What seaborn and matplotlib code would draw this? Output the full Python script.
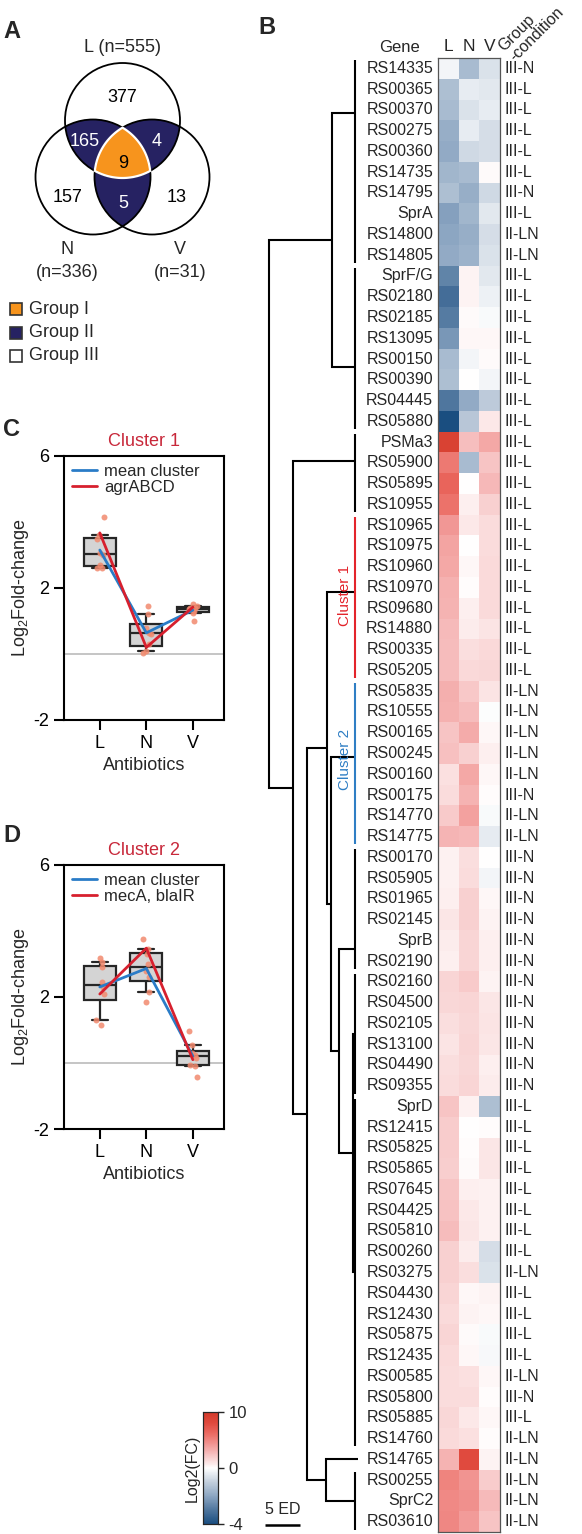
import numpy as np
import pandas as pd
import matplotlib
matplotlib.use('Agg')
import matplotlib.pyplot as plt
import seaborn as sns
from matplotlib.colors import LinearSegmentedColormap, TwoSlopeNorm
from matplotlib.patches import Circle, Polygon, Rectangle

sns.set_style('ticks')
plt.rcParams['font.family'] = ['Liberation Sans', 'DejaVu Sans']
plt.rcParams['axes.unicode_minus'] = False

# --- data -------------------------------------------------------------------
venn_regions = ['L', 'N', 'V', 'LN', 'LV', 'NV', 'LNV']
venn_counts = [377, 157, 13, 165, 4, 5, 9]
venn_set_labels = ['L (n=555)', 'N\n(n=336)', 'V\n(n=31)']
group_names = ['Group I', 'Group II', 'Group III']

conditions = ['L', 'N', 'V']

genes = ['RS14335', 'RS00365', 'RS00370', 'RS00275', 'RS00360', 'RS14735', 'RS14795',
         'SprA', 'RS14800', 'RS14805', 'SprF/G', 'RS02180', 'RS02185', 'RS13095',
         'RS00150', 'RS00390', 'RS04445', 'RS05880', 'PSMa3', 'RS05900', 'RS05895',
         'RS10955', 'RS10965', 'RS10975', 'RS10960', 'RS10970', 'RS09680', 'RS14880',
         'RS00335', 'RS05205', 'RS05835', 'RS10555', 'RS00165', 'RS00245', 'RS00160',
         'RS00175', 'RS14770', 'RS14775', 'RS00170', 'RS05905', 'RS01965', 'RS02145',
         'SprB', 'RS02190', 'RS02160', 'RS04500', 'RS02105', 'RS13100', 'RS04490',
         'RS09355', 'SprD', 'RS12415', 'RS05825', 'RS05865', 'RS07645', 'RS04425',
         'RS05810', 'RS00260', 'RS03275', 'RS04430', 'RS12430', 'RS05875', 'RS12435',
         'RS00585', 'RS05800', 'RS05885', 'RS14760', 'RS14765', 'RS00255', 'SprC2',
         'RS03610']

groups = ['III-N', 'III-L', 'III-L', 'III-L', 'III-L', 'III-L', 'III-N', 'III-L', 'II-LN',
          'II-LN', 'III-L', 'III-L', 'III-L', 'III-L', 'III-L', 'III-L', 'III-L', 'III-L',
          'III-L', 'III-L', 'III-L', 'III-L', 'III-L', 'III-L', 'III-L', 'III-L', 'III-L',
          'III-L', 'III-L', 'III-L', 'II-LN', 'II-LN', 'II-LN', 'II-LN', 'II-LN', 'III-N',
          'II-LN', 'II-LN', 'III-N', 'III-N', 'III-N', 'III-N', 'III-N', 'III-N', 'III-N',
          'III-N', 'III-N', 'III-N', 'III-N', 'III-N', 'III-L', 'III-L', 'III-L', 'III-L',
          'III-L', 'III-L', 'III-L', 'III-L', 'II-LN', 'III-L', 'III-L', 'III-L', 'III-L',
          'II-LN', 'III-N', 'III-L', 'II-LN', 'II-LN', 'II-LN', 'II-LN', 'II-LN']

lfc_L = [-0.2, -1.4, -1.5, -1.8, -1.9, -1.6, -1.4, -2.1, -2.0, -1.9,
         -2.7, -3.2, -2.9, -2.3, -1.5, -1.4, -3.0, -4.0, 9.0, 5.5,
         6.5, 5.8, 4.15, 3.6, 3.5, 3.05, 3.0, 2.7, 2.6, 2.6,
         3.19, 3.05, 2.3, 2.45, 1.14, 1.3, 2.1, 2.9, 0.5, 0.5,
         0.6, 0.9, 0.7, 0.6, 1.6, 1.5, 1.2, 1.0, 1.2, 1.3,
         2.3, 2.0, 2.0, 1.9, 2.3, 2.4, 2.6, 1.8, 1.8, 1.6,
         1.4, 1.6, 1.4, 1.3, 1.3, 1.5, 1.4, 3.0, 5.0, 4.8, 4.9]
lfc_N = [-1.5, -0.4, -0.6, -0.4, -0.8, -1.5, -1.8, -1.6, -1.8, -1.7,
         0.4, 0.4, 0.2, 0.3, -0.2, 0.0, -1.9, -1.2, 2.5, -1.5,
         0.0, 0.6, 0.8, 0.03, 0.3, 0.1, 0.6, 0.65, 1.2, 1.45,
         2.15, 2.6, 3.3, 1.85, 3.45, 3.0, 3.76, 2.8, 1.2, 1.3,
         1.8, 1.8, 1.6, 1.6, 2.1, 1.6, 1.5, 1.6, 1.5, 1.6,
         0.5, 0.0, 0.1, 0.2, 0.6, 0.8, 0.9, 0.7, 1.2, 0.3,
         0.4, 0.2, 0.3, 1.1, 1.3, 0.8, 1.1, 8.0, 4.3, 4.5, 4.0]
lfc_V = [-0.6, -0.5, -0.4, -0.7, -0.7, 0.2, -0.8, -0.5, -0.7, -0.6,
         -0.5, -0.3, -0.1, 0.3, 0.2, -0.2, -1.1, 0.8, 3.5, 2.3,
         2.8, 1.8, 1.3, 1.25, 1.38, 1.35, 1.4, 1.0, 1.45, 1.5,
         0.97, -0.05, 0.3, 0.55, 0.25, 0.15, -0.1, -0.42, 0.0, -0.2,
         0.3, 0.4, 0.6, 0.6, 0.4, 0.9, 1.0, 0.9, 0.6, 0.7,
         -1.4, 0.1, 0.9, 0.9, 0.5, 0.5, 0.5, -0.7, -0.6, 0.4,
         0.3, -0.1, -0.15, 0.3, 0.1, 0.3, 0.1, 0.4, 2.0, 2.7, 2.3]

cluster1_rows = list(range(22, 30))
cluster2_rows = list(range(30, 38))
agr_line = [3.67, 0.2, 1.42]    # agrABCD
mec_line = [2.09, 3.48, 0.1]    # mecA, blaIR

# dendrogram: collapsed leaf clusters (first row, last row, attach row) and merges (ED)
bar_names = ['a', 'b', 'c', 'k1', 'k2', 'd', 'e', 'f', 'g', 'h']
bar_first = [0, 10, 18, 22, 30, 38, 44, 50, 67, 68]
bar_last = [9, 17, 21, 29, 37, 43, 49, 66, 67, 70]
bar_attach = [2.65, 14.88, 19.41, 25.72, 33.67, 42.92, 47.0, 58.5, 67.5, 69.5]
merges = [('n1', 'a', 'b', 3.3),
          ('w', 'e', 'f', 0.3),
          ('v', 'd', 'w', 2.3),
          ('u', 'k2', 'v', 3.4),
          ('q', 'k1', 'u', 4.0),
          ('r', 'g', 'h', 4.1),
          ('p', 'q', 'r', 6.9),
          ('x', 'c', 'p', 8.9),
          ('root', 'n1', 'x', 12.3)]

# --- styling -----------------------------------------------------------------
W, H = 582, 1534
ORANGE = '#f7941d'
NAVY = '#262262'
RED = '#d7202e'
BLUE = '#2a7cc7'
C1_COL = '#e3242b'
C2_COL = '#2f7ec4'

cmap = LinearSegmentedColormap.from_list('lfc', [
    (0.0, '#1a4e80'), (0.125, '#4f769e'), (0.25, '#8ca6c2'), (0.375, '#c3cfdd'),
    (0.5, '#ffffff'), (0.55, '#fbe3e3'), (0.6, '#f8cccc'), (0.65, '#f5b3b2'),
    (0.7, '#f29c9a'), (0.8, '#ec6e66'), (0.9, '#e04a3e'), (1.0, '#d23a2a')])
norm = TwoSlopeNorm(vmin=-4, vcenter=0, vmax=10)

fig = plt.figure(figsize=(W / 100, H / 100), dpi=100)


def px_axes(x0, y0, x1, y1):
    return fig.add_axes([x0 / W, 1 - y1 / H, (x1 - x0) / W, (y1 - y0) / H])


# overlay in pixel coordinates for Venn, letters
ov = px_axes(0, 0, W, H)
ov.set_xlim(0, W)
ov.set_ylim(H, 0)
ov.axis('off')

for letter, (lx, ly) in zip('ABCD', [(12, 32), (267, 28), (12, 430), (12, 835)]):
    ov.text(lx, ly, letter, fontsize=17, fontweight='bold', ha='center', va='center')

# --- A: Venn ---------------------------------------------------------------
r = 57.5
centers = [(122.5, 120.5), (93, 177), (152, 177)]
for i, j in [(0, 1), (0, 2), (1, 2)]:
    c = Circle(centers[i], r, fc=NAVY, ec='none', zorder=1)
    ov.add_patch(c)
    c.set_clip_path(Circle(centers[j], r, transform=ov.transData))
for c in centers:
    ov.add_patch(Circle(c, r, fc='none', ec='black', lw=1.3, zorder=2))
theta = np.linspace(0, 2 * np.pi, 1440)
pts = []
for c in centers:
    ring = np.column_stack([c[0] + r * np.cos(theta), c[1] + r * np.sin(theta)])
    inside = np.all([np.hypot(ring[:, 0] - o[0], ring[:, 1] - o[1]) <= r + 1e-6
                     for o in centers], axis=0)
    pts.append(ring[inside])
pts = np.vstack(pts)
cen = pts.mean(axis=0)
pts = pts[np.argsort(np.arctan2(pts[:, 1] - cen[1], pts[:, 0] - cen[0]))]
ov.add_patch(Polygon(pts, closed=True, fc=ORANGE, ec='white', lw=1.6, zorder=3))

region_xy = {'L': (122, 98), 'N': (68, 197), 'V': (177, 197), 'LN': (85, 142),
             'LV': (157, 142), 'NV': (123, 203), 'LNV': (123, 163)}
for reg, cnt in zip(venn_regions, venn_counts):
    col = 'white' if len(reg) == 2 else 'black'
    ov.text(*region_xy[reg], str(cnt), fontsize=13, color=col, ha='center', va='center', zorder=5)
for lab, (tx, ty) in zip(venn_set_labels, [(122, 48), (67, 261), (180, 261)]):
    ov.text(tx, ty, lab, fontsize=13, ha='center', va='center', linespacing=1.5)

for k, (name, fc) in enumerate(zip(group_names, [ORANGE, NAVY, 'white'])):
    y = 309 + 23.5 * k
    ov.add_patch(Rectangle((10, y - 6), 12, 12, fc=fc, ec='#333333', lw=1.2))
    ov.text(29, y, name, fontsize=13, va='center', ha='left')


# --- C / D: cluster box plots --------------------------------------------------
def cluster_panel(ax, rows, gene_line, gene_label, title):
    long = pd.DataFrame({
        'cond': np.repeat(conditions, len(rows)),
        'lfc': np.concatenate([np.array(v)[rows] for v in (lfc_L, lfc_N, lfc_V)]),
    })
    long['pos'] = long['cond'].map({c: i for i, c in enumerate(conditions)})
    ax.axhline(0, color='#b5b5b5', lw=1.1, zorder=0)
    sns.boxplot(data=long, x='cond', y='lfc', order=conditions, width=0.69, color='#d4d4d4',
                linecolor='#262626', linewidth=1.6, whis=(10, 90), showfliers=False,
                saturation=1, ax=ax, zorder=1)
    sns.stripplot(data=long, x='cond', y='lfc', order=conditions, color='#f28a6e',
                  size=4.3, jitter=0.09, alpha=0.85, ax=ax, zorder=3)
    sns.lineplot(data=long, x='pos', y='lfc', estimator='mean', errorbar=None, color=BLUE,
                 lw=2, ax=ax, label='mean cluster', zorder=4)
    sns.lineplot(x=[0, 1, 2], y=gene_line, color=RED, lw=2, ax=ax, label=gene_label, zorder=5)
    ax.set_ylim(-2, 6)
    ax.set_yticks([-2, 2, 6])
    ax.set_xlim(-0.77, 2.67)
    ax.set_xticks([0, 1, 2])
    ax.set_xticklabels(conditions)
    ax.set_xlabel('Antibiotics', fontsize=13, labelpad=4)
    ax.set_ylabel(r'Log$_\mathregular{2}$Fold-change', fontsize=13, labelpad=2)
    ax.set_title(title, color='#c8283a', fontsize=13, pad=7)
    ax.tick_params(direction='out', length=7, width=1.5, labelsize=13, colors='black')
    for s in ax.spines.values():
        s.set_visible(True)
        s.set_linewidth(1.5)
        s.set_color('black')
    ax.legend(loc='upper left', frameon=False, fontsize=12, handlelength=1.5,
              handletextpad=0.4, labelspacing=0.05, borderaxespad=0.3, borderpad=0.2)


axC = px_axes(64, 456, 224, 720)
cluster_panel(axC, cluster1_rows, agr_line, 'agrABCD', 'Cluster 1')
axD = px_axes(64, 865, 224, 1129)
cluster_panel(axD, cluster2_rows, mec_line, 'mecA, blaIR', 'Cluster 2')

# --- B: heatmap ---------------------------------------------------------------
hm_df = pd.DataFrame({'L': lfc_L, 'N': lfc_N, 'V': lfc_V}, index=genes)
ax_hm = px_axes(438, 58, 500, 1532)
ax_cb = px_axes(203, 1412, 218, 1524)
sns.heatmap(hm_df, ax=ax_hm, cmap=cmap, norm=norm, cbar_ax=ax_cb,
            xticklabels=True, yticklabels=True, linewidths=0)
ax_hm.xaxis.tick_top()
ax_hm.set_xticklabels(conditions, fontsize=12.5, rotation=0)
ax_hm.set_yticklabels(genes, fontsize=11.5, rotation=0)
ax_hm.tick_params(axis='both', length=0)
ax_hm.tick_params(axis='x', pad=3)
ax_hm.tick_params(axis='y', pad=3.5)
for s in ax_hm.spines.values():
    s.set_visible(True)
    s.set_linewidth(0.9)
    s.set_color('#555555')
ax_hm.text(-1.84, -0.5, 'Gene', fontsize=12, ha='center', va='center')
for i, g in enumerate(groups):
    ax_hm.text(3.24, i + 0.5, g, fontsize=11.5, ha='left', va='center')
# rotated header, two lines placed separately (pixel offsets)
ov.text(504, 52, 'Group', fontsize=11.5, rotation=45, ha='left', va='baseline',
        rotation_mode='anchor')
ov.text(515, 62, '-condition', fontsize=11.5, rotation=45, ha='left', va='baseline',
        rotation_mode='anchor')

ax_cb.set_yticks([-4, 0, 10])
ax_cb.tick_params(labelsize=12, length=4, width=1)
ax_cb.yaxis.set_label_position('left')
ax_cb.set_ylabel('Log2(FC)', fontsize=11.5, labelpad=2)
for s in ax_cb.spines.values():
    s.set_visible(True)
    s.set_linewidth(0.8)

# --- dendrogram -----------------------------------------------------------------
ax_dn = px_axes(240, 58, 362, 1532)
ax_dn.set_xlim((355 - 240) / 7, (355 - 362) / 7)
ax_dn.set_ylim(len(genes), 0)
ax_dn.axis('off')
pos = {n: (0.0, y) for n, y in zip(bar_names, bar_attach)}
pos['g'] = (-0.45, bar_attach[bar_names.index('g')])
for name, left, right, h in merges:
    (hl, yl), (hr, yr) = pos[left], pos[right]
    ax_dn.plot([hl, h, h, hr], [yl, yl, yr, yr], color='black', lw=1.5,
               solid_joinstyle='miter', solid_capstyle='butt')
    pos[name] = (h, (yl + yr) / 2)
bar_colors = {'k1': C1_COL, 'k2': C2_COL}
for n, f, l in zip(bar_names, bar_first, bar_last):
    if l > f:
        ax_dn.plot([0, 0], [f + 0.12, l + 0.88], color=bar_colors.get(n, 'black'), lw=1.5,
                   solid_capstyle='butt')
ax_dn.text(1.45, 25.9, 'Cluster 1', color=C1_COL, rotation=90, fontsize=11,
           ha='center', va='center')
ax_dn.text(1.45, 33.8, 'Cluster 2', color=C2_COL, rotation=90, fontsize=11,
           ha='center', va='center')
# 5 ED scale bar
ax_dn.plot([12.86, 7.86], [70.67, 70.67], color='black', lw=1.8, solid_capstyle='butt')
ax_dn.text(10.36, 70.3, '5 ED', fontsize=11.5, ha='center', va='bottom')

fig.savefig('out.png', dpi=100)
